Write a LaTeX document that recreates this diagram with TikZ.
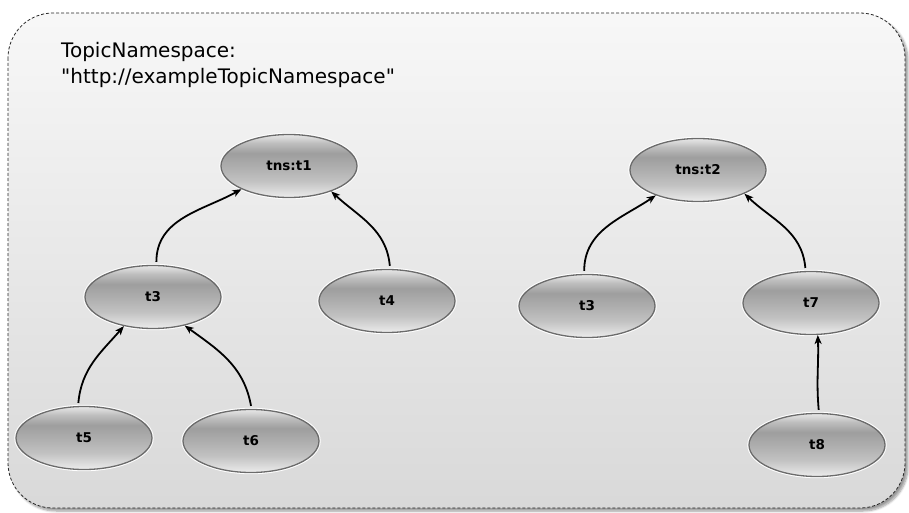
\documentclass[tikz,border=0pt]{standalone}
\usepackage{fontspec}
\setmainfont{DejaVu Sans}
\newfontfamily\plainsans{DejaVu Sans}
\usetikzlibrary{shapes.geometric,arrows.meta,shadows.blur}
\pgfdeclareverticalshading{topicshade}{100bp}{color(0bp)=(black!7); color(25bp)=(black!7); color(30bp)=(black!14); color(38bp)=(black!24); color(50bp)=(black!32); color(60bp)=(black!38); color(68bp)=(black!26); color(73bp)=(black!14); color(75bp)=(black!9); color(100bp)=(black!9)}
\tikzset{
  topic/.style={ellipse, minimum width=136pt, minimum height=63pt, inner sep=0pt,
    draw=black!58, line width=1.3pt, shading=topicshade,
    preaction={draw=white, line width=3.4pt},
    font=\fontsize{13.5}{15}\selectfont\bfseries},
  link/.style={line width=1.8pt, black, -{Stealth[length=9pt,width=7pt,inset=2.5pt]}},
  frame/.style={rounded corners=45pt, draw=black!85, line width=0.8pt, dash pattern=on 3pt off 2pt,
    top color=black!3, bottom color=black!15,
    blur shadow={shadow xshift=3pt, shadow yshift=-3pt, shadow opacity=40, shadow blur steps=6}}
}
\begin{document}
\begin{tikzpicture}[x=1pt,y=1pt]
\useasboundingbox (0,0) rectangle (909,-513);
\path[frame] (8,-13) rectangle (905,-508);
\node[anchor=base west, align=left, inner sep=0pt, font=\plainsans\fontsize{20}{26}\selectfont] (title) at (61,-84)
  {TopicNamespace:\\"http://exampleTopicNamespace"};
\node[topic] (t1) at (289,-166) {tns:t1};
\node[topic] (t3a) at (153,-297) {t3};
\node[topic] (t4) at (387,-301) {t4};
\node[topic] (t5) at (84,-438) {t5};
\node[topic] (t6) at (251,-441) {t6};
\node[topic] (t2) at (698,-170) {tns:t2};
\node[topic] (t3b) at (587,-306) {t3};
\node[topic] (t7) at (811,-303) {t7};
\node[topic] (t8) at (817,-445) {t8};
\draw[link] ([yshift=3pt]t3a.84) to[out=90,in=209] (t1.206);
\draw[link] ([yshift=3pt]t4.85) to[out=95,in=317] (t1.329);
\draw[link] ([yshift=3pt]t5.100) to[out=85,in=229] (t3a.225);
\draw[link] ([yshift=3pt]t6.90) to[out=100,in=324] (t3a.318);
\draw[link] ([yshift=3pt]t3b.95) to[out=90,in=214] (t2.211);
\draw[link] ([yshift=3pt]t7.100) to[out=95,in=316] (t2.333);
\draw[link] ([yshift=3pt]t8.87) to[out=95,in=272] (t7.282);
\end{tikzpicture}
\end{document}
